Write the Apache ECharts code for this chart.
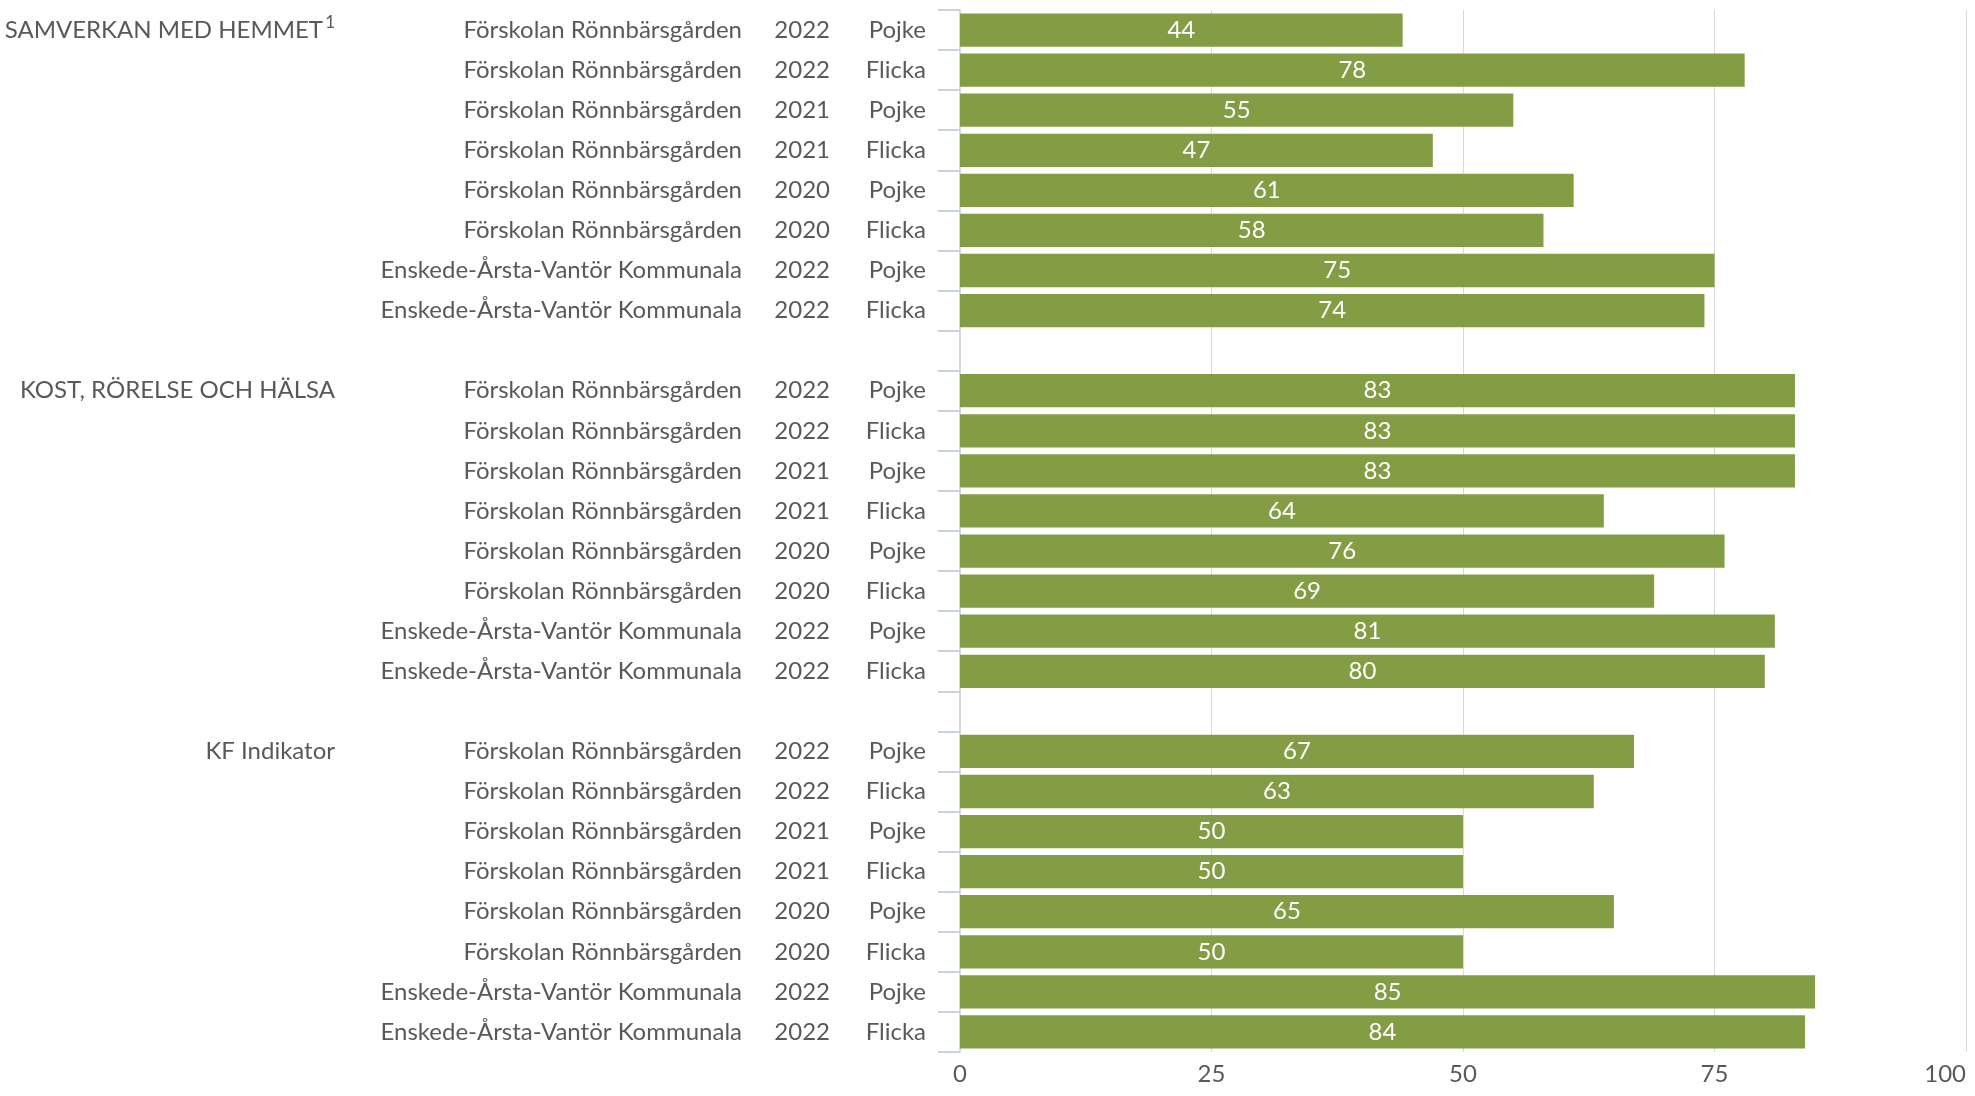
<!DOCTYPE html>
<html>
<head>
<meta charset="utf-8">
<script src="https://cdn.jsdelivr.net/npm/echarts@6/dist/echarts.min.js"></script>
<style>
  html, body { margin: 0; padding: 0; background: #fff; }
  #chart { width: 1975px; height: 1096px; }
</style>
</head>
<body>
<div id="chart"></div>
<script>
// groups (areas) shown in the left column
const groups = ["SAMVERKAN MED HEMMET", "KOST, RÖRELSE OCH HÄLSA", "KF Indikator"];
// rows inside each group
const units = [
  "Förskolan Rönnbärsgården", "Förskolan Rönnbärsgården",
  "Förskolan Rönnbärsgården", "Förskolan Rönnbärsgården",
  "Förskolan Rönnbärsgården", "Förskolan Rönnbärsgården",
  "Enskede-Årsta-Vantör Kommunala", "Enskede-Årsta-Vantör Kommunala"
];
const years = ["2022", "2022", "2021", "2021", "2020", "2020", "2022", "2022"];
const genders = ["Pojke", "Flicka", "Pojke", "Flicka", "Pojke", "Flicka", "Pojke", "Flicka"];
// values per group
const samverkan = [44, 78, 55, 47, 61, 58, 75, 74];
const kost = [83, 83, 83, 64, 76, 69, 81, 80];
const kf = [67, 63, 50, 50, 65, 50, 85, 84];
const xTicks = [0, 25, 50, 75, 100];

// build rows, with an empty row between groups
const groupValues = [samverkan, kost, kf];
const rows = [];
const values = [];
groupValues.forEach((vals, gi) => {
  if (gi > 0) {
    rows.push(null);
    values.push(null);
  }
  vals.forEach((v, i) => {
    rows.push({
      group: i === 0 ? groups[gi] : "",
      sup: i === 0 && gi === 0,
      unit: units[i],
      year: years[i],
      gender: genders[i],
    });
    values.push(v);
  });
});
const cats = rows.map((r, i) => String(i));

const chart = echarts.init(document.getElementById("chart"));
const txt = "#595959";
const font = "Lato";
const fs = 24;

chart.setOption({
  animation: false,
  grid: { left: 960, right: 9, top: 10, bottom: 44, containLabel: false },
  xAxis: {
    type: "value",
    min: 0,
    max: 100,
    interval: 25,
    axisLine: { show: false },
    axisTick: { show: false },
    splitLine: { show: true, lineStyle: { color: "#d9d9d9", width: 1 } },
    axisLabel: {
      color: txt,
      fontFamily: font,
      fontSize: fs,
      margin: 10,
      alignMaxLabel: "right",
      formatter: (v) => (xTicks.indexOf(v) >= 0 ? String(v) : ""),
    },
  },
  yAxis: {
    type: "category",
    inverse: true,
    data: cats,
    axisLine: { show: true, lineStyle: { color: "#d9d9d9", width: 2 } },
    axisTick: {
      show: true,
      length: 22,
      lineStyle: { color: "#c9d2e6", width: 2 },
    },
    axisLabel: {
      margin: 34,
      color: txt,
      fontFamily: font,
      fontSize: fs,
      formatter: (value, idx) => {
        const r = rows[Number(value)];
        if (!r) return "";
        const g = r.group ? r.group : " ";
        const gPart = r.sup ? "{g1|" + g + "}{sup|1}" : "{g|" + g + "}";
        return gPart + "{s|" + r.unit + "}{y|" + r.year + "}{p|" + r.gender + "}";
      },
      rich: {
        g: { width: 317, align: "right", color: txt, fontFamily: font, fontSize: fs },
        g1: { width: 305, align: "right", color: txt, fontFamily: font, fontSize: fs },
        sup: { width: 12, align: "right", color: txt, fontFamily: font, fontSize: 17, padding: [0, 0, 16, 0] },
        s: { width: 407, align: "right", color: txt, fontFamily: font, fontSize: fs },
        y: { width: 88, align: "right", color: txt, fontFamily: font, fontSize: fs },
        p: { width: 96, align: "right", color: txt, fontFamily: font, fontSize: fs },
      },
    },
  },
  series: [
    {
      type: "bar",
      data: values,
      barCategoryGap: "17%",
      itemStyle: { color: "#839d44" },
      label: {
        show: true,
        position: "inside",
        color: "#ffffff",
        fontFamily: font,
        fontSize: fs,
      },
    },
  ],
});
</script>
</body>
</html>
